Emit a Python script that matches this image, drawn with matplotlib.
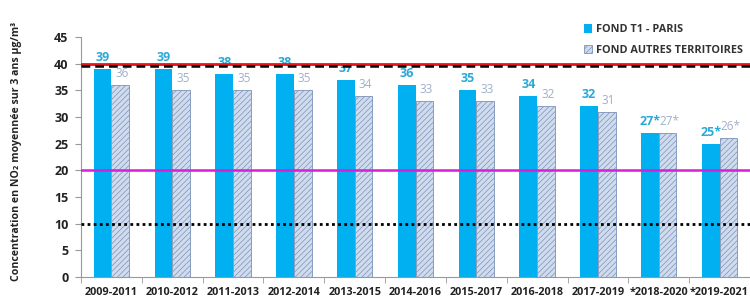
import matplotlib.pyplot as plt
import numpy as np
from matplotlib.patches import Patch

plt.rcParams['font.family'] = ['Open Sans', 'DejaVu Sans']
plt.rcParams['hatch.linewidth'] = 0.5

# --- Data ---
periods = ['2009-2011', '2010-2012', '2011-2013', '2012-2014', '2013-2015',
           '2014-2016', '2015-2017', '2016-2018', '2017-2019', '*2018-2020', '*2019-2021']
paris = [39, 39, 38, 38, 37, 36, 35, 34, 32, 27, 25]
autres = [36, 35, 35, 35, 34, 33, 33, 32, 31, 27, 26]
paris_labels = ['39', '39', '38', '38', '37', '36', '35', '34', '32', '27*', '25*']
autres_labels = ['36', '35', '35', '35', '34', '33', '33', '32', '31', '27*', '26*']

BLUE = '#00b0f0'
HATCH_FILL = '#d0dcee'
HATCH_EDGE = '#7b92b8'
LABEL_BLUE = '#2aa9d8'
LABEL_GRAY = '#9fb0c8'
TEXT = '#222222'

fig = plt.figure(figsize=(7.5, 3.03), dpi=100)
ax = fig.add_axes([0.108, 0.086, 0.892, 0.792])

x = np.arange(len(periods))
w = 0.29
ax.bar(x - w / 2, paris, w, color=BLUE, zorder=2)
ax.bar(x + w / 2, autres, w, color=HATCH_FILL, edgecolor=HATCH_EDGE,
       hatch='//////', linewidth=0.6, zorder=2)

for i in range(len(periods)):
    ax.text(x[i] - w / 2, paris[i] + 0.9, paris_labels[i], ha='center', va='bottom',
            color=LABEL_BLUE, fontsize=9, fontweight='bold', zorder=3)
    ax.text(x[i] + w / 2 + 0.03, autres[i] + 0.9, autres_labels[i], ha='center', va='bottom',
            color=LABEL_GRAY, fontsize=8.5, zorder=3)

# reference lines (drawn over bars and labels)
ax.axhline(40, color='#e8141c', lw=2, zorder=5)
ax.axhline(39.5, color='black', lw=1.8, ls=(0, (3.5, 2)), zorder=5)
ax.axhline(20, color='#d61fd6', lw=1.8, zorder=5)
ax.axhline(10, color='black', lw=2, ls=(0, (1, 1.2)), zorder=5)

ax.set_xlim(-0.5, len(periods) - 0.5)
ax.set_ylim(0, 45)
ax.set_yticks(range(0, 46, 5))
ax.set_xticks(x)
ax.set_xticklabels(periods, fontsize=7.8, fontweight='bold', color=TEXT)
ax.set_xticks(np.arange(-0.5, len(periods), 1), minor=True)
ax.tick_params(axis='x', which='major', length=0, pad=7)
ax.tick_params(axis='x', which='minor', length=4, color='#999999')
ax.tick_params(axis='y', length=4, color='#999999', labelsize=9, labelcolor=TEXT, pad=5)
for lab in ax.get_yticklabels():
    lab.set_fontweight('bold')

for s in ['top', 'right']:
    ax.spines[s].set_visible(False)
ax.spines['left'].set_color('#999999')
ax.spines['bottom'].set_color('#999999')

fig.text(0.022, 0.5, 'Concentration en NO₂ moyennée sur 3 ans µg/m³', rotation=90,
         ha='center', va='center', fontsize=7.6, fontweight='bold', color=TEXT)

handles = [Patch(facecolor=BLUE, label='FOND T1 - PARIS'),
           Patch(facecolor=HATCH_FILL, edgecolor=HATCH_EDGE, hatch='//////', lw=0.6,
                 label='FOND AUTRES TERRITOIRES')]
leg = fig.legend(handles=handles, loc='upper left', bbox_to_anchor=(0.765, 0.952),
                 frameon=False, handlelength=0.8, handleheight=0.8, handletextpad=0.4,
                 labelspacing=0.9, prop={'size': 7.8, 'weight': 'bold'})
for t in leg.get_texts():
    t.set_color('#333333')

fig.savefig('out.png', dpi=100)
